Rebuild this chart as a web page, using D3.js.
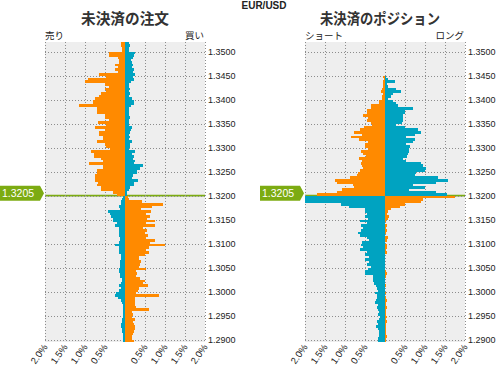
<!DOCTYPE html>
<html><head><meta charset="utf-8">
<script src="https://cdn.jsdelivr.net/npm/d3@7"></script>
<style>body{margin:0;background:#fff}svg{display:block}</style>
</head><body>
<svg id="c" width="497" height="365"></svg>
<script>
// ---------- data ----------
const pair = "EUR/USD";
const currentPrice = 1.3205;
const splitPrice = 1.3200;       // level where the price line is drawn
const binSize = 0.0005;
const priceTicks = [1.2900,1.2950,1.3000,1.3050,1.3100,1.3150,1.3200,1.3250,1.3300,1.3350,1.3400,1.3450,1.3500];
const pctTicks = [-2,-1.5,-1,-0.5,0,0.5,1,1.5,2];
const pctLabels = [-2,-1.5,-1,-0.5,0.5,1,1.5,2];

// Open orders (%), bins above split, top -> bottom
const ordersAboveLeft = [0.09,0.09,0.08,0.08,0.39,0.39,0.18,0.16,0.16,0.26,0.18,0.26,0.18,0.66,0.48,0.92,1.0,0.49,0.41,0.51,0.48,0.59,0.64,0.74,0.81,0.81,1.14,0.71,0.71,0.71,0.51,0.51,0.39,0.68,0.48,0.74,0.51,0.64,0.64,0.54,0.54,0.71,0.49,0.48,0.38,0.84,0.78,0.78,0.61,0.54,0.89,0.56,0.56,0.69,0.69,0.74,0.74,0.74,0.68,0.69,0.59,0.61,0.31,0.19];
const ordersAboveRight = [0.11,0.13,0.09,0.09,0.26,0.23,0.21,0.15,0.18,0.19,0.18,0.22,0.19,0.26,0.19,0.23,0.14,0.09,0.11,0.13,0.09,0.13,0.09,0.18,0.23,0.22,0.15,0.09,0.11,0.09,0.11,0.13,0.11,0.09,0.09,0.18,0.16,0.13,0.11,0.13,0.09,0.18,0.13,0.13,0.11,0.26,0.18,0.23,0.19,0.26,0.23,0.46,0.38,0.31,0.29,0.21,0.18,0.33,0.23,0.23,0.13,0.11,0.06,0.04];
// Open orders (%), bins below split, top -> bottom
const ordersBelowLeft = [0.05,0.07,0.09,0.1,0.15,0.12,0.43,0.37,0.34,0.29,0.29,0.2,0.25,0.15,0.14,0.15,0.15,0.12,0.12,0.14,0.24,0.15,0.14,0.15,0.1,0.1,0.1,0.12,0.12,0.12,0.14,0.14,0.12,0.12,0.07,0.07,0.09,0.14,0.09,0.14,0.22,0.24,0.17,0.1,0.07,0.05,0.05,0.05,0.04,0.05,0.04,0.07,0.08,0.1,0.09,0.08,0.07,0.06,0.06,0.05,0.05];
const ordersBelowRight = [0.08,0.1,0.43,0.96,0.68,0.4,0.65,0.53,0.63,0.55,0.76,0.53,0.74,0.45,0.55,0.5,0.57,0.53,0.74,0.63,0.99,0.6,0.53,0.61,0.51,0.36,0.35,0.4,0.38,0.35,0.53,0.28,0.3,0.28,0.38,0.49,0.45,0.58,0.35,0.32,0.28,0.86,0.26,0.24,0.26,0.24,0.28,0.61,0.18,0.2,0.18,0.24,0.2,0.22,0.24,0.25,0.22,0.2,0.18,0.18,0.22];

// Open positions (%), bins above split, top -> bottom
const posAboveLeft = [0,0,0,0,0,0,0,0,0,0,0,0,0,0,0.04,0.02,0.05,0.04,0.05,0.07,0.1,0.05,0.07,0.07,0.14,0.14,0.35,0.35,0.44,0.44,0.55,0.42,0.45,0.35,0.32,0.52,0.62,0.77,0.57,0.85,0.64,0.42,0.49,0.5,0.42,0.6,0.55,0.47,0.64,0.57,0.59,0.57,0.55,0.62,0.67,0.69,0.87,1.24,1.2,0.79,0.77,1.07,1.2,1.69];
const posAboveRight = [0,0,0,0,0,0,0,0,0,0,0,0,0,0,0.03,0.08,0.26,0.05,0.08,0.28,0.4,0.2,0.15,0.08,0.2,0.28,0.32,0.71,0.51,0.49,0.45,0.45,0.45,0.43,0.28,0.49,0.82,0.9,0.74,0.53,0.76,0.7,0.53,0.63,0.6,0.61,0.57,0.55,0.45,0.53,0.9,0.95,1.03,0.99,0.78,0.74,1.32,1.57,1.28,0.7,0.99,0.61,1.28,1.55];
// Open positions (%), bins below split, top -> bottom
const posBelowLeft = [2.3,2.3,2.3,1.1,0.9,0.5,0.51,0.45,0.49,0.43,0.62,0.44,0.6,0.54,0.59,0.67,0.62,0.45,0.4,0.57,0.59,0.55,0.62,0.45,0.49,0.4,0.5,0.39,0.44,0.35,0.42,0.49,0.49,0.3,0.29,0.29,0.27,0.22,0.2,0.17,0.24,0.19,0.2,0.22,0.25,0.18,0.2,0.17,0.15,0.18,0.13,0.15,0.2,0.17,0.22,0.18,0.15,0.14,0.16,0.18,0.17];
const posBelowRight = [1.74,0.95,0.9,0.5,0.37,0.15,0.08,0.05,0.11,0.08,0.03,0.01,0.05,0.03,0.06,0.03,0.01,0.08,0.05,0.01,0.06,0.05,0.03,0.05,0.01,0.01,0.01,0.01,0.01,0.01,0.01,0.03,0.05,0.03,0.01,0.01,0.01,0.03,0.01,0.01,0.03,0.01,0.02,0.04,0.02,0.02,0.05,0.02,0.02,0.02,0.04,0.02,0.04,0.02,0.02,0.02,0.02,0.02,0.04,0.02,0.02];

// ---------- drawing ----------
const ORANGE = "#ff8a00", TEAL = "#00a3c1", GREEN = "#7cab12", BG = "#eeeeee", GRID = "#8c8c8c";
const svg = d3.select("#c");
const y = d3.scaleLinear().domain([1.2895, 1.352]).range([342, 42]);
const latin = "'Liberation Sans', Arial, sans-serif";
const cjk = "'Noto Sans CJK JP', sans-serif";

svg.append("text").attr("x", 264).attr("y", 9).attr("text-anchor", "middle")
  .attr("font-family", latin).attr("font-weight", "bold").attr("font-size", 10).attr("fill", "#222").text(pair);

function panel(cfg) {
  const x = d3.scaleLinear().domain([-2, 2]).range([cfg.left, cfg.left + 160]).clamp(true);
  const g = svg.append("g");
  const [yb, yt] = y.range();
  const id = "clip" + cfg.left;
  svg.append("clipPath").attr("id", id).append("rect")
    .attr("x", x(-2)).attr("y", yt).attr("width", x(2) - x(-2)).attr("height", yb - yt);

  g.append("rect").attr("x", x(-2)).attr("y", yt).attr("width", x(2) - x(-2)).attr("height", yb - yt).attr("fill", BG);

  // price line
  g.append("line").attr("x1", x(-2)).attr("x2", x(2)).attr("y1", y(splitPrice)).attr("y2", y(splitPrice))
    .attr("stroke", GREEN).attr("stroke-width", 1.6);

  // grid
  g.selectAll(".hg").data(priceTicks).enter().append("line")
    .attr("x1", x(-2)).attr("x2", x(2)).attr("y1", d => Math.round(y(d)) + 0.5).attr("y2", d => Math.round(y(d)) + 0.5)
    .attr("stroke", GRID).attr("stroke-width", 1).attr("stroke-dasharray", "1,2");
  g.selectAll(".vg").data(pctTicks).enter().append("line")
    .attr("x1", d => x(d) + 0.5).attr("x2", d => x(d) + 0.5).attr("y1", yt).attr("y2", yb)
    .attr("stroke", GRID).attr("stroke-width", 1).attr("stroke-dasharray", "1,2");

  const bars = g.append("g").attr("clip-path", `url(#${id})`).attr("shape-rendering", "crispEdges");
  const nA = cfg.aboveL.length;
  const above = cfg.aboveL.map((v, i) => ({
    hi: splitPrice + (nA - i) * binSize, lo: splitPrice + (nA - 1 - i) * binSize, l: v, r: cfg.aboveR[i]
  }));
  const below = cfg.belowL.map((v, j) => ({
    hi: splitPrice - j * binSize, lo: splitPrice - (j + 1) * binSize, l: v, r: cfg.belowR[j]
  }));
  function draw(rows, leftColor, rightColor) {
    bars.append("g").selectAll("rect").data(rows.filter(d => d.l > 0)).enter().append("rect")
      .attr("x", d => x(-d.l)).attr("width", d => x(0) - x(-d.l))
      .attr("y", d => y(d.hi)).attr("height", d => y(d.lo) - y(d.hi) + 0.4).attr("fill", leftColor);
    bars.append("g").selectAll("rect").data(rows.filter(d => d.r > 0)).enter().append("rect")
      .attr("x", x(0)).attr("width", d => x(d.r) - x(0))
      .attr("y", d => y(d.hi)).attr("height", d => y(d.lo) - y(d.hi) + 0.4).attr("fill", rightColor);
  }
  draw(above, ORANGE, TEAL);
  draw(below, TEAL, ORANGE);

  // y labels
  g.selectAll(".yl").data(priceTicks).enter().append("text")
    .attr("x", x(2) + 3).attr("y", d => y(d) + 3.5).attr("font-family", latin).attr("font-size", 9)
    .attr("fill", "#222").text(d => d.toFixed(4));

  // x labels
  g.selectAll(".xl").data(pctLabels).enter().append("text")
    .attr("transform", d => `translate(${x(d) + 3},${347}) rotate(-55)`)
    .attr("text-anchor", "end").attr("font-family", latin).attr("font-size", 9.5).attr("fill", "#222")
    .text(d => Math.abs(d).toFixed(1) + "%");

  // titles
  g.append("text").attr("x", cfg.titleX).attr("y", 24).attr("text-anchor", "middle")
    .attr("font-family", cjk).attr("font-weight", "bold").attr("font-size", 15).attr("fill", "#333")
    .attr("textLength", cfg.titleLen).attr("lengthAdjust", "spacingAndGlyphs").text(cfg.title);
  g.append("text").attr("x", x(-2)).attr("y", 39).attr("font-family", cjk).attr("font-size", 9.5)
    .attr("fill", "#222").text(cfg.leftLabel);
  g.append("text").attr("x", x(2) - 1).attr("y", 39).attr("text-anchor", "end").attr("font-family", cjk)
    .attr("font-size", 9.5).attr("fill", "#222").text(cfg.rightLabel);

  // current price marker
  const cy = y(currentPrice), tip = x(-2) - 1, m0 = tip - 44;
  g.append("path").attr("d", `M${m0},${cy - 7.5}H${tip - 4}L${tip},${cy}L${tip - 4},${cy + 7.5}H${m0}Z`).attr("fill", GREEN);
  g.append("text").attr("x", m0 + 2).attr("y", cy + 4).attr("font-family", latin).attr("font-size", 10.5)
    .attr("fill", "#fff").text(currentPrice.toFixed(4));
}

panel({ left: 45, title: "未決済の注文", titleX: 125, titleLen: 88, leftLabel: "売り", rightLabel: "買い",
  aboveL: ordersAboveLeft, aboveR: ordersAboveRight, belowL: ordersBelowLeft, belowR: ordersBelowRight });
panel({ left: 305, title: "未決済のポジション", titleX: 380, titleLen: 120, leftLabel: "ショート", rightLabel: "ロング",
  aboveL: posAboveLeft, aboveR: posAboveRight, belowL: posBelowLeft, belowR: posBelowRight });
</script>
</body></html>
